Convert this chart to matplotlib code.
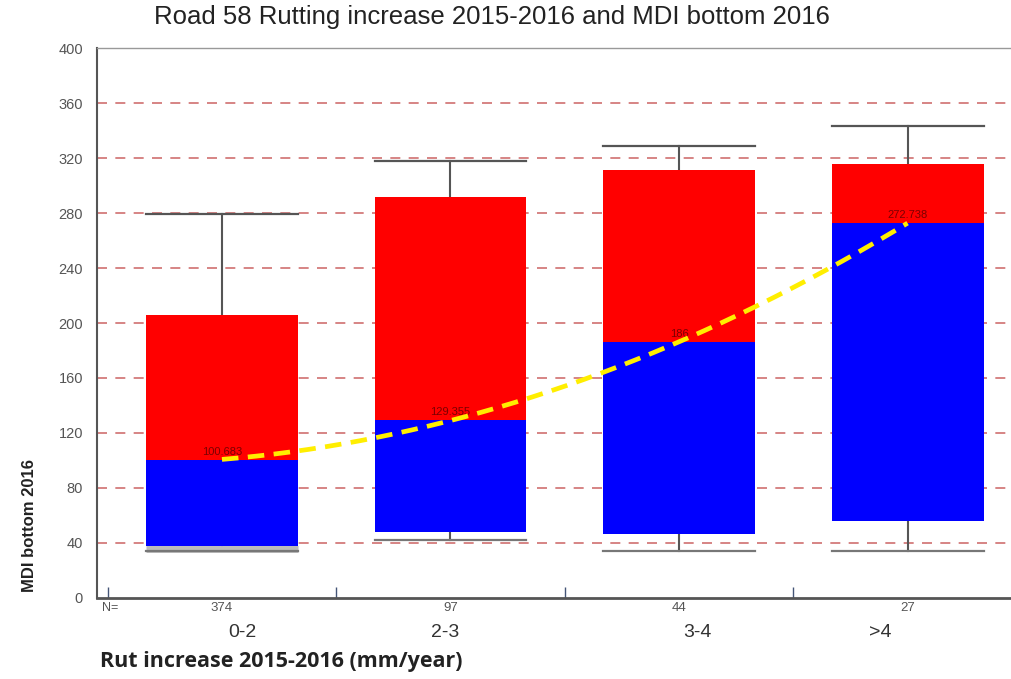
import numpy as np
import matplotlib
matplotlib.use("Agg")
import matplotlib.pyplot as plt

# Rut-increase classes and MDI bottom 2016 box statistics
categories = ["0-2", "2-3", "3-4", ">4"]
counts = [374, 97, 44, 27]
whisker_low = [34, 42, 34, 34]
q1 = [38, 48, 46.5, 56]
median = [100.683, 129.355, 186, 272.738]
median_labels = ["100.683", "129.355", "186", "272.738"]
q3 = [206, 292, 311, 316]
whisker_high = [279, 318, 329, 343]
y_ticks = list(range(0, 401, 40))

fig = plt.figure(figsize=(10.12, 6.79), dpi=100)
ax = fig.add_axes([0.0958, 0.1193, 0.9042, 0.81])

x = np.arange(len(categories))
width = 0.665

# dashed horizontal grid
for yv in y_ticks[1:-1]:
    ax.axhline(yv, color="#cf7070", lw=1.2, dashes=(6, 5), zorder=1)

# boxes: blue lower half (Q1 to median), red upper half (median to Q3)
ax.bar(x, np.array(median) - np.array(q1), bottom=q1, width=width,
       color="#0000ff", edgecolor="none", zorder=3)
ax.bar(x, np.array(q3) - np.array(median), bottom=median, width=width,
       color="#ff0000", edgecolor="none", zorder=3)

# whiskers and caps
for xi, lo, b, t, hi in zip(x, whisker_low, q1, q3, whisker_high):
    ax.plot([xi, xi], [t, hi], color="#555555", lw=1.5, zorder=2)
    ax.plot([xi, xi], [lo, b], color="#555555", lw=1.5, zorder=2)
    ax.plot([xi - width / 2, xi + width / 2], [hi, hi], color="#555555", lw=1.6, zorder=4)
    ax.plot([xi - width / 2, xi + width / 2], [lo, lo], color="#777777", lw=1.6, zorder=4)
ax.plot([x[0] - width / 2, x[0] + width / 2], [whisker_low[0] + 1.5] * 2,
        color="#bbbbbb", lw=5, zorder=2.5, solid_capstyle="butt")

# median value labels
for xi, m, lab in zip(x, median, median_labels):
    ax.annotate(lab, (xi, m), xytext=(0, 2), textcoords="offset points",
                ha="center", va="bottom", fontsize=8, color="#7a0000",
                family="Liberation Sans", zorder=5)

# quadratic trend through the medians
coef = np.polyfit(x, median, 2)
xs = np.linspace(x[0], x[-1], 200)
ax.plot(xs, np.polyval(coef, xs), color="#ffee00", lw=3.4, dashes=(3.5, 2),
        zorder=6, solid_capstyle="butt")

ax.set_xlim(-0.547, 3.457)
ax.set_ylim(0, 400)
ax.set_yticks(y_ticks)
ax.set_yticklabels([str(v) for v in y_ticks], family="Liberation Sans",
                   fontsize=10.5, color="#555555")
ax.tick_params(axis="y", length=0, pad=10)
ax.set_xticks([-0.5, 0.5, 1.5, 2.5])
ax.set_xticklabels([])
ax.tick_params(axis="x", direction="in", length=8, color="#445577", width=1)

ax.spines["right"].set_visible(False)
ax.spines["top"].set_color("#999999")
ax.spines["top"].set_linewidth(1)
ax.spines["left"].set_color("#555555")
ax.spines["left"].set_linewidth(1.5)
ax.spines["bottom"].set_color("#555555")
ax.spines["bottom"].set_linewidth(2)

# N row and category labels beneath the axis
trans = ax.get_xaxis_transform()
ax.text(-0.49, -0.008, "N=", transform=trans, ha="center", va="top",
        fontsize=9, color="#555555", family="Liberation Sans")
for xi, n in zip(x, counts):
    ax.text(xi, -0.008, str(n), transform=trans, ha="center", va="top",
            fontsize=9.5, color="#555555", family="Liberation Sans")
cat_pos = [0.09, 0.976, 2.08, 2.88]
for cp, c in zip(cat_pos, categories):
    ax.text(cp, -0.062, c, transform=trans, ha="center", va="center",
            fontsize=14, color="#333333", family="Liberation Sans")

fig.text(281 / 1012, 1 - 662 / 679, "Rut increase 2015-2016 (mm/year)",
         ha="center", va="center", fontsize=15.5, fontweight="bold",
         family="Open Sans", color="#222222")
fig.text(30 / 1012, 1 - 525 / 679, "MDI bottom 2016", rotation=90,
         ha="center", va="center", fontsize=12, fontweight="bold",
         family="Liberation Sans", color="#222222")
fig.text(492 / 1012, 1 - 17 / 679, "Road 58 Rutting increase 2015-2016 and MDI bottom 2016",
         ha="center", va="center", fontsize=18.5, family="Liberation Sans",
         color="#222222")

fig.savefig("out.png", dpi=100)
